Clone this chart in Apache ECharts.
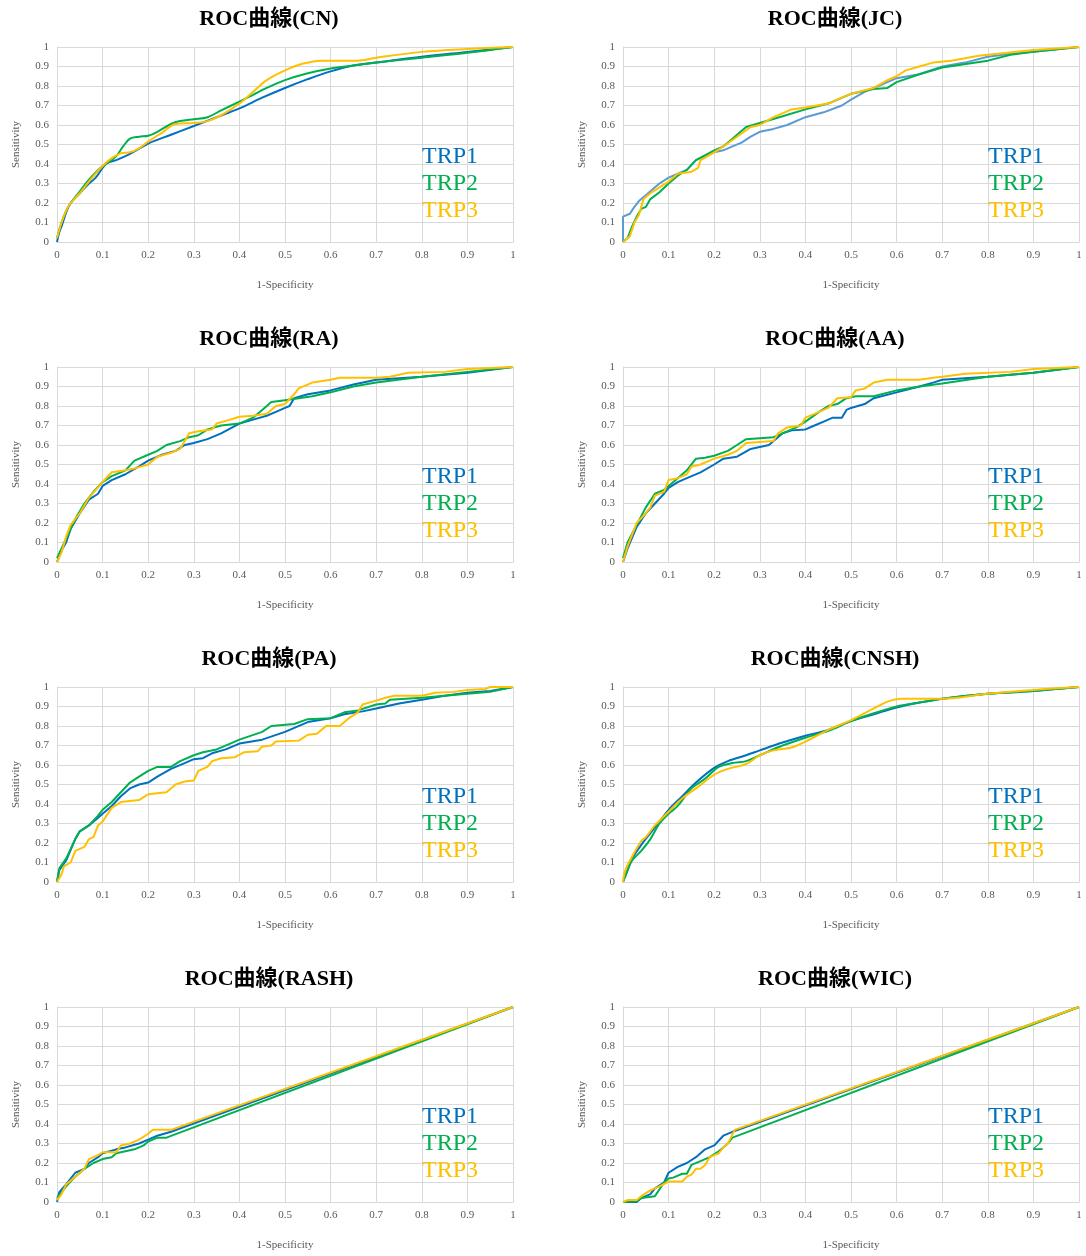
<!DOCTYPE html>
<html>
<head>
<meta charset="utf-8">
<script src="https://cdn.jsdelivr.net/npm/echarts@6/dist/echarts.min.js"></script>
<style>
  html, body { margin: 0; padding: 0; background: #ffffff; }
  #chart { width: 1086px; height: 1256px; }
</style>
</head>
<body>
<div id="chart"></div>
<script>
// ---- labels ----
const seriesNames = ['TRP1', 'TRP2', 'TRP3'];
const panelTitles = ['ROC曲線(CN)', 'ROC曲線(JC)', 'ROC曲線(RA)', 'ROC曲線(AA)',
                     'ROC曲線(PA)', 'ROC曲線(CNSH)', 'ROC曲線(RASH)', 'ROC曲線(WIC)'];
const xAxisName = '1-Specificity';
const yAxisName = 'Sensitivity';

// ---- ROC points: [1-Specificity, Sensitivity] ----
const cnTrp1 = [[0,0],[0.005,0.05],[0.01,0.08],[0.02,0.15],[0.03,0.2],[0.05,0.25],[0.07,0.3],[0.085,0.33],[0.1,0.38],[0.11,0.405],[0.13,0.42],[0.15,0.44],[0.17,0.465],[0.2,0.505],[0.25,0.55],[0.3,0.595],[0.35,0.64],[0.4,0.685],[0.45,0.74],[0.5,0.79],[0.55,0.835],[0.6,0.875],[0.65,0.905],[0.7,0.92],[0.8,0.95],[0.9,0.975],[1,1]];
const cnTrp2 = [[0,0.02],[0.01,0.1],[0.02,0.16],[0.03,0.2],[0.05,0.26],[0.07,0.32],[0.1,0.39],[0.12,0.42],[0.13,0.44],[0.145,0.49],[0.16,0.53],[0.18,0.54],[0.2,0.545],[0.22,0.565],[0.25,0.605],[0.27,0.62],[0.3,0.63],[0.33,0.64],[0.36,0.675],[0.4,0.72],[0.43,0.755],[0.46,0.79],[0.5,0.83],[0.55,0.865],[0.6,0.89],[0.65,0.905],[0.7,0.92],[0.8,0.945],[0.9,0.97],[1,1]];
const cnTrp3 = [[0,0.02],[0.01,0.1],[0.02,0.16],[0.03,0.2],[0.05,0.25],[0.07,0.31],[0.1,0.39],[0.12,0.43],[0.14,0.455],[0.16,0.46],[0.18,0.48],[0.2,0.515],[0.23,0.56],[0.26,0.605],[0.3,0.61],[0.33,0.62],[0.36,0.65],[0.4,0.71],[0.43,0.77],[0.46,0.83],[0.5,0.88],[0.54,0.915],[0.58,0.93],[0.62,0.93],[0.66,0.93],[0.7,0.945],[0.8,0.975],[0.9,0.99],[1,1]];

const jcTrp1 = [[0,0],[0,0.13],[0.015,0.145],[0.025,0.18],[0.035,0.21],[0.05,0.24],[0.065,0.27],[0.08,0.3],[0.1,0.33],[0.12,0.35],[0.14,0.37],[0.16,0.42],[0.18,0.44],[0.2,0.46],[0.22,0.47],[0.24,0.49],[0.26,0.51],[0.28,0.54],[0.3,0.565],[0.33,0.58],[0.36,0.6],[0.4,0.64],[0.44,0.665],[0.48,0.7],[0.5,0.73],[0.53,0.77],[0.56,0.8],[0.6,0.84],[0.65,0.86],[0.7,0.9],[0.75,0.92],[0.8,0.95],[0.85,0.965],[0.9,0.975],[1,1]];
const jcTrp2 = [[0,0],[0.01,0.02],[0.02,0.08],[0.03,0.13],[0.04,0.17],[0.05,0.18],[0.06,0.22],[0.08,0.255],[0.1,0.3],[0.12,0.34],[0.14,0.37],[0.16,0.42],[0.2,0.47],[0.22,0.49],[0.24,0.53],[0.27,0.59],[0.3,0.61],[0.35,0.645],[0.4,0.68],[0.45,0.71],[0.5,0.76],[0.55,0.785],[0.58,0.79],[0.6,0.82],[0.65,0.86],[0.7,0.895],[0.8,0.93],[0.85,0.96],[0.9,0.975],[1,1]];
const jcTrp3 = [[0,0],[0.015,0.03],[0.025,0.1],[0.035,0.14],[0.045,0.22],[0.06,0.25],[0.08,0.28],[0.1,0.31],[0.12,0.35],[0.15,0.36],[0.165,0.38],[0.17,0.42],[0.2,0.46],[0.22,0.49],[0.25,0.54],[0.28,0.59],[0.3,0.6],[0.33,0.64],[0.37,0.68],[0.4,0.69],[0.45,0.71],[0.47,0.73],[0.5,0.76],[0.55,0.79],[0.58,0.83],[0.6,0.85],[0.62,0.88],[0.65,0.9],[0.68,0.92],[0.72,0.93],[0.78,0.955],[0.9,0.985],[1,1]];

const raTrp1 = [[0,0],[0.01,0.06],[0.02,0.1],[0.03,0.17],[0.05,0.25],[0.07,0.32],[0.09,0.35],[0.1,0.39],[0.12,0.42],[0.15,0.45],[0.18,0.49],[0.2,0.52],[0.23,0.55],[0.26,0.57],[0.28,0.6],[0.3,0.61],[0.33,0.63],[0.36,0.66],[0.4,0.71],[0.43,0.73],[0.46,0.75],[0.48,0.77],[0.5,0.79],[0.51,0.8],[0.52,0.84],[0.55,0.86],[0.6,0.88],[0.65,0.91],[0.7,0.935],[0.8,0.95],[0.9,0.97],[1,1]];
const raTrp2 = [[0,0.02],[0.02,0.12],[0.04,0.22],[0.06,0.3],[0.08,0.36],[0.1,0.41],[0.12,0.44],[0.15,0.47],[0.17,0.52],[0.2,0.55],[0.22,0.57],[0.24,0.6],[0.27,0.62],[0.29,0.64],[0.31,0.65],[0.33,0.68],[0.36,0.7],[0.4,0.71],[0.43,0.74],[0.45,0.78],[0.47,0.82],[0.5,0.83],[0.53,0.84],[0.56,0.85],[0.6,0.87],[0.65,0.9],[0.7,0.92],[0.8,0.95],[0.9,0.975],[1,1]];
const raTrp3 = [[0,0],[0.01,0.05],[0.02,0.13],[0.03,0.19],[0.05,0.25],[0.07,0.33],[0.1,0.41],[0.12,0.46],[0.15,0.47],[0.17,0.48],[0.2,0.5],[0.22,0.54],[0.25,0.56],[0.27,0.58],[0.28,0.62],[0.29,0.66],[0.31,0.67],[0.34,0.68],[0.35,0.71],[0.38,0.73],[0.4,0.745],[0.43,0.75],[0.46,0.76],[0.48,0.8],[0.5,0.81],[0.52,0.86],[0.53,0.89],[0.56,0.92],[0.6,0.935],[0.62,0.945],[0.7,0.945],[0.73,0.95],[0.77,0.97],[0.85,0.975],[0.9,0.99],[1,1]];

const aaTrp1 = [[0,0],[0.01,0.07],[0.03,0.18],[0.05,0.25],[0.07,0.3],[0.09,0.35],[0.1,0.38],[0.12,0.41],[0.14,0.43],[0.17,0.46],[0.2,0.5],[0.22,0.53],[0.25,0.54],[0.28,0.58],[0.3,0.59],[0.32,0.6],[0.35,0.66],[0.37,0.675],[0.4,0.68],[0.42,0.7],[0.44,0.72],[0.46,0.74],[0.48,0.74],[0.49,0.78],[0.5,0.79],[0.53,0.81],[0.55,0.84],[0.6,0.87],[0.65,0.9],[0.68,0.92],[0.7,0.935],[0.8,0.95],[0.9,0.97],[1,1]];
const aaTrp2 = [[0,0.02],[0.01,0.1],[0.03,0.19],[0.05,0.28],[0.07,0.35],[0.09,0.37],[0.1,0.39],[0.12,0.43],[0.14,0.47],[0.16,0.53],[0.18,0.535],[0.2,0.545],[0.23,0.57],[0.25,0.6],[0.27,0.63],[0.3,0.635],[0.33,0.64],[0.35,0.66],[0.38,0.69],[0.4,0.72],[0.43,0.77],[0.45,0.8],[0.47,0.81],[0.49,0.84],[0.51,0.85],[0.55,0.85],[0.6,0.88],[0.65,0.9],[0.7,0.915],[0.8,0.95],[0.9,0.97],[1,1]];
const aaTrp3 = [[0,0],[0.01,0.08],[0.03,0.2],[0.05,0.25],[0.06,0.28],[0.07,0.34],[0.09,0.36],[0.1,0.42],[0.12,0.43],[0.14,0.45],[0.15,0.49],[0.17,0.5],[0.2,0.53],[0.23,0.55],[0.25,0.57],[0.27,0.61],[0.3,0.615],[0.33,0.62],[0.34,0.66],[0.36,0.69],[0.39,0.7],[0.4,0.74],[0.42,0.76],[0.45,0.79],[0.47,0.84],[0.5,0.845],[0.51,0.88],[0.53,0.89],[0.55,0.92],[0.58,0.935],[0.65,0.935],[0.68,0.945],[0.7,0.95],[0.75,0.965],[0.85,0.975],[0.9,0.99],[1,1]];

const paTrp1 = [[0,0],[0.005,0.06],[0.02,0.11],[0.04,0.22],[0.05,0.26],[0.07,0.29],[0.09,0.33],[0.1,0.35],[0.12,0.39],[0.14,0.44],[0.16,0.48],[0.18,0.5],[0.2,0.51],[0.22,0.54],[0.25,0.58],[0.28,0.61],[0.3,0.63],[0.32,0.635],[0.34,0.66],[0.37,0.68],[0.4,0.71],[0.45,0.73],[0.5,0.77],[0.55,0.82],[0.6,0.84],[0.63,0.86],[0.67,0.875],[0.7,0.89],[0.75,0.915],[0.8,0.935],[0.85,0.955],[0.9,0.97],[0.95,0.98],[1,1]];
const paTrp2 = [[0,0],[0.005,0.07],[0.02,0.12],[0.04,0.22],[0.05,0.26],[0.07,0.29],[0.09,0.34],[0.1,0.37],[0.12,0.41],[0.14,0.46],[0.16,0.51],[0.18,0.54],[0.2,0.57],[0.22,0.59],[0.25,0.59],[0.27,0.62],[0.3,0.65],[0.32,0.665],[0.35,0.68],[0.38,0.71],[0.4,0.73],[0.45,0.77],[0.47,0.8],[0.52,0.81],[0.55,0.835],[0.6,0.84],[0.63,0.87],[0.66,0.88],[0.7,0.91],[0.72,0.915],[0.73,0.935],[0.8,0.945],[0.9,0.965],[0.95,0.975],[1,1]];
const paTrp3 = [[0,0],[0.01,0.04],[0.015,0.08],[0.03,0.1],[0.04,0.16],[0.05,0.17],[0.06,0.18],[0.07,0.22],[0.08,0.23],[0.09,0.29],[0.1,0.31],[0.12,0.38],[0.14,0.41],[0.18,0.42],[0.2,0.45],[0.24,0.46],[0.26,0.5],[0.28,0.515],[0.3,0.52],[0.31,0.57],[0.33,0.59],[0.34,0.62],[0.36,0.635],[0.39,0.64],[0.41,0.665],[0.44,0.67],[0.45,0.695],[0.47,0.7],[0.48,0.72],[0.53,0.725],[0.55,0.755],[0.57,0.76],[0.59,0.8],[0.62,0.8],[0.64,0.84],[0.66,0.87],[0.67,0.91],[0.7,0.93],[0.72,0.945],[0.74,0.955],[0.8,0.955],[0.83,0.97],[0.87,0.975],[0.9,0.985],[0.94,0.99],[0.95,1],[1,1]];

const cnshTrp1 = [[0,0],[0.01,0.06],[0.02,0.12],[0.04,0.19],[0.06,0.25],[0.08,0.31],[0.1,0.37],[0.13,0.44],[0.16,0.51],[0.2,0.585],[0.23,0.62],[0.27,0.65],[0.3,0.675],[0.35,0.715],[0.4,0.75],[0.45,0.78],[0.5,0.825],[0.55,0.86],[0.6,0.895],[0.65,0.92],[0.7,0.94],[0.8,0.965],[0.9,0.98],[1,1]];
const cnshTrp2 = [[0,0],[0.01,0.06],[0.02,0.11],[0.04,0.16],[0.06,0.22],[0.08,0.3],[0.1,0.35],[0.12,0.39],[0.15,0.48],[0.18,0.53],[0.21,0.59],[0.24,0.61],[0.27,0.62],[0.3,0.65],[0.35,0.7],[0.4,0.74],[0.45,0.775],[0.5,0.825],[0.55,0.865],[0.6,0.9],[0.65,0.92],[0.7,0.94],[0.8,0.965],[0.9,0.98],[1,1]];
const cnshTrp3 = [[0,0],[0.005,0.06],[0.02,0.13],[0.04,0.21],[0.05,0.23],[0.07,0.29],[0.1,0.36],[0.13,0.43],[0.16,0.48],[0.2,0.55],[0.23,0.58],[0.27,0.605],[0.3,0.65],[0.33,0.675],[0.37,0.69],[0.4,0.72],[0.45,0.78],[0.5,0.83],[0.55,0.89],[0.58,0.925],[0.61,0.94],[0.65,0.94],[0.7,0.94],[0.8,0.965],[0.9,0.985],[1,1]];

const rashTrp1 = [[0,0],[0.005,0.05],[0.02,0.09],[0.04,0.15],[0.06,0.17],[0.07,0.2],[0.09,0.23],[0.1,0.25],[0.13,0.27],[0.15,0.28],[0.18,0.3],[0.2,0.32],[0.22,0.34],[0.25,0.36],[1,1]];
const rashTrp2 = [[0,0.02],[0.02,0.08],[0.04,0.13],[0.06,0.17],[0.08,0.2],[0.1,0.22],[0.12,0.23],[0.13,0.25],[0.15,0.26],[0.17,0.27],[0.19,0.29],[0.2,0.31],[0.22,0.33],[0.24,0.33],[1,1]];
const rashTrp3 = [[0,0.01],[0.01,0.04],[0.02,0.09],[0.04,0.13],[0.06,0.17],[0.07,0.22],[0.09,0.24],[0.1,0.255],[0.13,0.255],[0.14,0.29],[0.16,0.3],[0.18,0.32],[0.2,0.35],[0.21,0.37],[0.25,0.37],[1,1]];

const wicTrp1 = [[0,0],[0.03,0],[0.04,0.02],[0.06,0.04],[0.07,0.07],[0.09,0.1],[0.1,0.15],[0.12,0.18],[0.14,0.2],[0.16,0.23],[0.18,0.27],[0.2,0.29],[0.22,0.34],[0.24,0.36],[1,1]];
const wicTrp2 = [[0,0],[0.03,0.005],[0.04,0.02],[0.07,0.03],[0.09,0.1],[0.1,0.12],[0.11,0.125],[0.13,0.145],[0.14,0.145],[0.15,0.19],[0.17,0.21],[0.19,0.23],[0.21,0.26],[0.22,0.28],[0.23,0.3],[0.24,0.33],[1,1]];
const wicTrp3 = [[0,0],[0.01,0.01],[0.03,0.01],[0.04,0.03],[0.06,0.06],[0.08,0.08],[0.1,0.105],[0.13,0.105],[0.14,0.13],[0.15,0.14],[0.16,0.17],[0.17,0.17],[0.18,0.19],[0.19,0.23],[0.2,0.24],[0.21,0.25],[0.22,0.28],[0.23,0.3],[0.245,0.37],[1,1]];

// ---- panel assembly ----
const panelData = [
  [cnTrp1, cnTrp2, cnTrp3], [jcTrp1, jcTrp2, jcTrp3],
  [raTrp1, raTrp2, raTrp3], [aaTrp1, aaTrp2, aaTrp3],
  [paTrp1, paTrp2, paTrp3], [cnshTrp1, cnshTrp2, cnshTrp3],
  [rashTrp1, rashTrp2, rashTrp3], [wicTrp1, wicTrp2, wicTrp3]
];
const smoothPanels = [true, false, false, false, false, true, false, false];

const legendColors = ['#0070C0', '#00B050', '#FFC000'];
const lineColorsByPanel = (p) => p === 1 ? ['#5B9BD5', '#00B050', '#FFC000'] : legendColors;

const serif = '"Liberation Serif", "DejaVu Serif", serif';
const titleFont = '"Liberation Serif", "Noto Sans CJK JP", serif';
const gridColor = '#D9D9D9';
const labelColor = '#595959';

const colLeft = [57, 623];
const colCenter = [264, 830];
const legendLeft = [412, 978];
const plotW = 456, plotH = 195, rowStep = 320, plotTop = 47;

const option = {
  animation: false,
  backgroundColor: '#ffffff',
  title: [], legend: [], grid: [], xAxis: [], yAxis: [], series: []
};

panelData.forEach((trio, p) => {
  const col = p % 2, row = Math.floor(p / 2);
  const top = plotTop + row * rowStep;

  option.title.push({
    text: panelTitles[p],
    left: colCenter[col], top: top - 44, textAlign: 'center',
    textStyle: { fontFamily: titleFont, fontWeight: 'bold', fontSize: 22, color: '#000000' }
  });

  option.grid.push({ left: colLeft[col], top: top, width: plotW, height: plotH });

  option.xAxis.push({
    type: 'value', gridIndex: p, min: 0, max: 1, interval: 0.1,
    name: xAxisName, nameLocation: 'middle', nameGap: 38,
    nameTextStyle: { fontFamily: serif, fontSize: 11, color: labelColor },
    axisLine: { show: true, lineStyle: { color: gridColor, width: 1 } },
    axisTick: { show: false },
    axisLabel: { fontFamily: serif, fontSize: 11, color: labelColor, margin: 8 },
    splitLine: { show: true, lineStyle: { color: gridColor, width: 1 } }
  });

  option.yAxis.push({
    type: 'value', gridIndex: p, min: 0, max: 1, interval: 0.1,
    name: yAxisName, nameLocation: 'middle', nameGap: 35, nameRotate: 90,
    nameTextStyle: { fontFamily: serif, fontSize: 11, color: labelColor },
    axisLine: { show: true, lineStyle: { color: gridColor, width: 1 } },
    axisTick: { show: false },
    axisLabel: { fontFamily: serif, fontSize: 11, color: labelColor, margin: 8 },
    splitLine: { show: true, lineStyle: { color: gridColor, width: 1 } }
  });

  // later series draw over earlier ones: TRP3 on top
  const lineColors = lineColorsByPanel(p);
  trio.forEach((pts, s) => {
    option.series.push({
      type: 'line', name: seriesNames[s],
      xAxisIndex: p, yAxisIndex: p,
      data: pts, showSymbol: false, symbol: 'none',
      smooth: smoothPanels[p] ? 0.35 : false,
      lineStyle: { color: lineColors[s], width: 2 },
      itemStyle: { color: lineColors[s] }
    });
  });

  option.legend.push({
    orient: 'vertical',
    left: legendLeft[col], top: top + 93,
    icon: 'rect', itemWidth: 0, itemHeight: 0, itemGap: 3,
    selectedMode: false,
    data: seriesNames.map((n, s) => ({
      name: n,
      textStyle: { color: legendColors[s], fontFamily: serif, fontSize: 24, lineHeight: 24 }
    }))
  });
});

const chart = echarts.init(document.getElementById('chart'), null, { renderer: 'canvas' });
chart.setOption(option);
</script>
</body>
</html>
